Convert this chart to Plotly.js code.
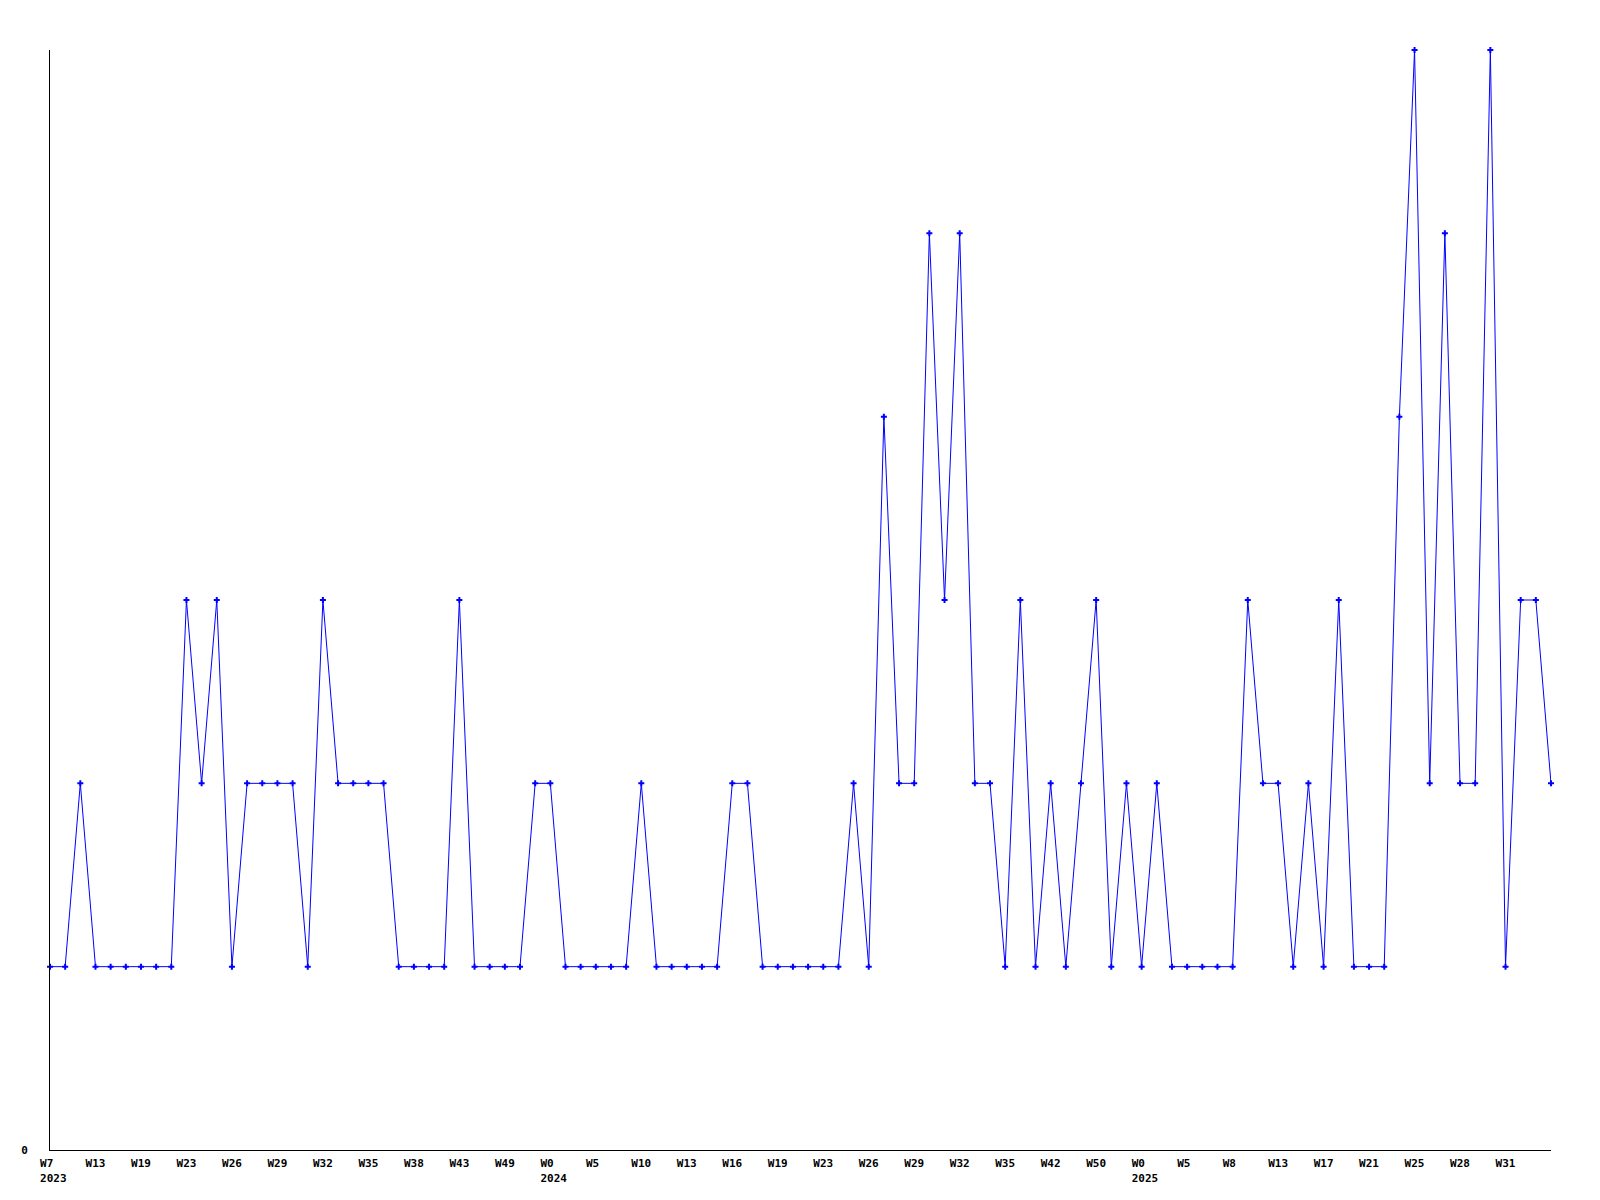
<!DOCTYPE html>
<html>
<head>
<meta charset="utf-8">
<script src="https://cdn.plot.ly/plotly-3.0.1.min.js"></script>
<style>
html, body { margin: 0; padding: 0; background: #ffffff; }
#chart { width: 1600px; height: 1200px; }
</style>
</head>
<body>
<div id="chart"></div>
<script>
// Series values, one per sample
const values = [
  1, 1, 2, 1, 1, 1, 1, 1, 1, 3,
  2, 3, 1, 2, 2, 2, 2, 1, 3, 2,
  2, 2, 2, 1, 1, 1, 1, 3, 1, 1,
  1, 1, 2, 2, 1, 1, 1, 1, 1, 2,
  1, 1, 1, 1, 1, 2, 2, 1, 1, 1,
  1, 1, 1, 2, 1, 4, 2, 2, 5, 3,
  5, 2, 2, 1, 3, 1, 2, 1, 2, 3,
  1, 2, 1, 2, 1, 1, 1, 1, 1, 3,
  2, 2, 1, 2, 1, 3, 1, 1, 1, 4,
  6, 2, 5, 2, 2, 6, 1, 3, 3, 2
];

// Labelled sample positions and their labels
const tickIndex = [0, 3, 6, 9, 12, 15, 18, 21, 24, 27, 30,
                   33, 36, 39, 42, 45, 48, 51, 54, 57, 60, 63, 66, 69,
                   72, 75, 78, 81, 84, 87, 90, 93, 96];
const tickWeeks = ["W7", "W13", "W19", "W23", "W26", "W29", "W32", "W35", "W38", "W43", "W49",
                   "W0", "W5", "W10", "W13", "W16", "W19", "W23", "W26", "W29", "W32", "W35", "W42", "W50",
                   "W0", "W5", "W8", "W13", "W17", "W21", "W25", "W28", "W31"];
const tickYears = ["2023", "", "", "", "", "", "", "", "", "", "",
                   "2024", "", "", "", "", "", "", "", "", "", "", "", "",
                   "2025", "", "", "", "", "", "", "", ""];

const xIndex = values.map((_, i) => i);
const NB = "\u00A0";
// labels in the reference are left-aligned a little before the point;
// pad with non-breaking spaces so centred monospace text starts at the same place
const tickText = tickWeeks.map((w, k) => {
  const wk = w.length < 3 ? w + NB.repeat(3 - w.length) : w;
  return tickYears[k] ? wk + "<br>" + NB + tickYears[k] : wk;
});

const font = { family: "DejaVu Sans Mono, monospace", size: 11, color: "#000000", weight: "bold" };

const trace = {
  type: "scatter",
  mode: "lines+markers",
  x: xIndex,
  y: values,
  line: { color: "#0000ff", width: 1 },
  marker: { symbol: "cross", size: 5, color: "#0000ff", line: { width: 0 } },
  cliponaxis: false,
  hoverinfo: "skip"
};

const layout = {
  width: 1600,
  height: 1200,
  paper_bgcolor: "#ffffff",
  plot_bgcolor: "#ffffff",
  showlegend: false,
  margin: { l: 50, r: 49, t: 50, b: 50, pad: 0 },
  font: font,
  xaxis: {
    range: [0, values.length - 1],
    tickmode: "array",
    tickvals: tickIndex,
    ticktext: tickText,
    ticks: "",
    showgrid: false,
    zeroline: false,
    showline: true,
    linecolor: "#000000",
    linewidth: 1,
    tickangle: 0,
    tickfont: font,
    ticklabelstandoff: 3
  },
  yaxis: {
    range: [0, 6],
    tickmode: "array",
    tickvals: [0],
    ticktext: ["0"],
    ticks: "",
    showgrid: false,
    zeroline: false,
    showline: true,
    linecolor: "#000000",
    linewidth: 1,
    tickfont: font,
    ticklabelstandoff: 19
  }
};

Plotly.newPlot("chart", [trace], layout, { displayModeBar: false, staticPlot: true });
</script>
</body>
</html>
